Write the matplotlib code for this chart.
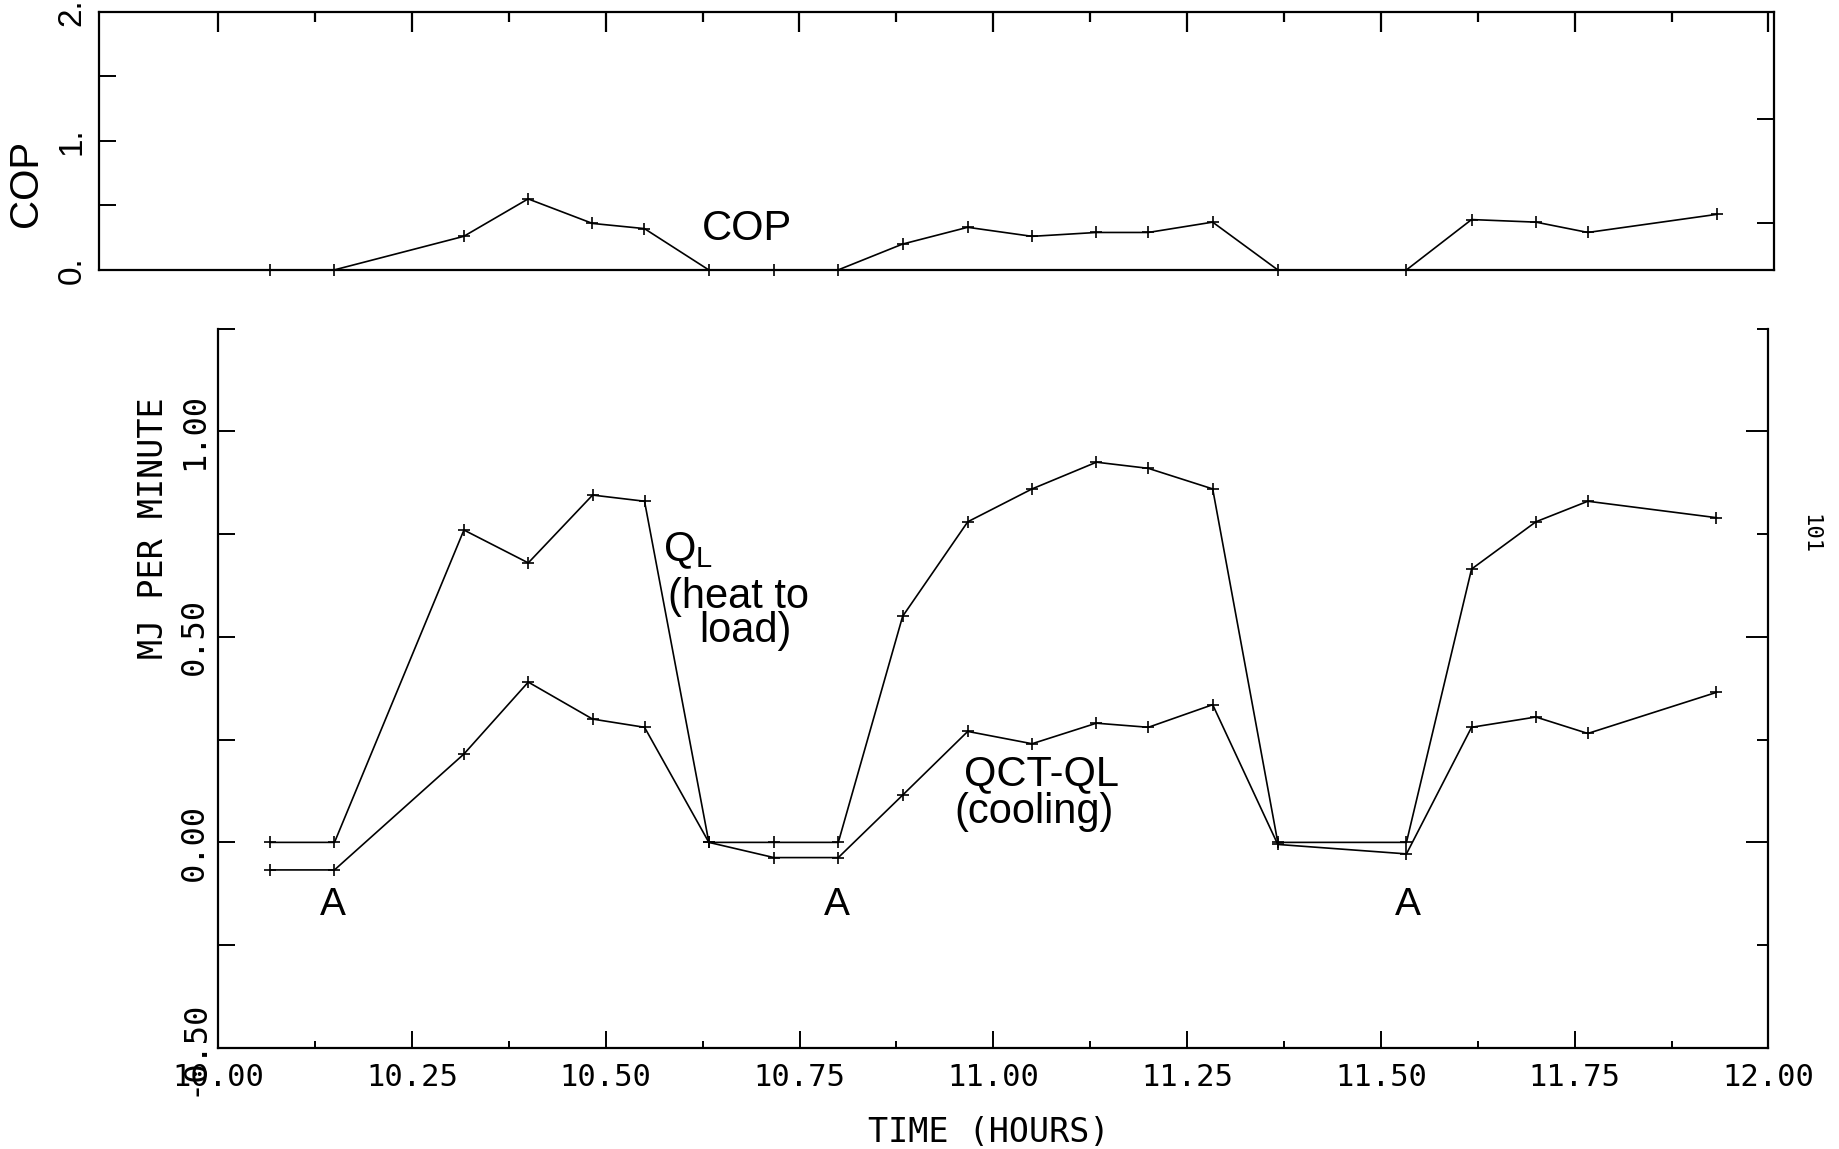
import numpy as np
import matplotlib
matplotlib.use("Agg")
import matplotlib.pyplot as plt
from matplotlib.ticker import FixedLocator, MultipleLocator, NullLocator

# time of each reading (hours)
hours = [10.067, 10.15, 10.317, 10.40, 10.483, 10.55, 10.633, 10.717, 10.80,
         10.883, 10.967, 11.05, 11.133, 11.20, 11.283, 11.367, 11.533,
         11.617, 11.70, 11.767, 11.933]
# coefficient of performance
cop = [0.0, 0.0, 0.26, 0.55, 0.36, 0.32, 0.0, 0.0, 0.0,
       0.20, 0.33, 0.26, 0.29, 0.29, 0.37, 0.0, 0.0,
       0.39, 0.37, 0.29, 0.43]
# Q_L, heat to load (MJ per minute)
q_load = [0.0, 0.0, 0.76, 0.68, 0.845, 0.83, 0.0, 0.0, 0.0,
          0.55, 0.78, 0.86, 0.925, 0.91, 0.86, 0.0, 0.0,
          0.665, 0.78, 0.83, 0.79]
# QCT-QL, cooling (MJ per minute)
q_cool = [-0.067, -0.067, 0.215, 0.39, 0.30, 0.28, 0.0, -0.037, -0.037,
          0.115, 0.27, 0.24, 0.29, 0.28, 0.335, -0.005, -0.028,
          0.28, 0.305, 0.265, 0.365]

x_ticks = [10.00, 10.25, 10.50, 10.75, 11.00, 11.25, 11.50, 11.75, 12.00]
x_ticklabels = ["10.00", "10.25", "10.50", "10.75", "11.00", "11.25",
                "11.50", "11.75", "12.00"]
y_ticks = [-0.50, 0.00, 0.50, 1.00]
y_ticklabels = ["-0.50", "0.00", "0.50", "1.00"]
cop_ticks = [0.0, 1.0, 2.0]
cop_ticklabels = ["0.", "1.", "2."]
a_marks = [10.148, 10.798, 11.535]

mono = "DejaVu Sans Mono"
sans = "Liberation Sans"

fig = plt.figure(figsize=(18.4, 11.49), dpi=100)

# ---- top panel: COP ----
ax1 = fig.add_axes([0.0536, 0.7651, 0.9107, 0.2247])
ax1.plot(hours, cop, "k-", marker="+", ms=8, mew=1.2, lw=1.2, clip_on=False)
ax1.set_xlim(9.846, 12.0075)
ax1.set_ylim(0, 2)
for s in ax1.spines.values():
    s.set_linewidth(1.6)
ax1.xaxis.set_major_locator(NullLocator())
ax1.tick_params(axis="x", bottom=False, top=False, labelbottom=False)

ax1.yaxis.set_major_locator(FixedLocator(cop_ticks))
ax1.yaxis.set_minor_locator(FixedLocator([0.5, 1.5]))
ax1.set_yticklabels(cop_ticklabels, rotation=90, va="center",
                    family=sans, fontsize=24)
ax1.tick_params(axis="y", which="both", direction="in", length=12,
                width=1.4, pad=8)
ax1.set_ylabel("COP", family=sans, fontsize=29, va="center")
ax1.yaxis.set_label_coords(-0.0434, 0.333)
ax1.text(10.682, 0.318, "COP", family=sans, fontsize=30,
         ha="center", va="center")

# right-hand ticks of the COP frame
r1 = ax1.twinx()
r1.set_ylim(0, 2)
r1.yaxis.set_major_locator(FixedLocator([0.36, 1.17]))
r1.yaxis.set_minor_locator(NullLocator())
r1.tick_params(axis="y", direction="in", length=12, width=1.4,
               labelright=False)
for s in r1.spines.values():
    s.set_visible(False)

# ---- bottom panel: heat flows ----
ax2 = fig.add_axes([0.1186, 0.0880, 0.8425, 0.626])
ax2.plot(hours, q_load, "k-", marker="+", ms=8, mew=1.2, lw=1.2)
ax2.plot(hours, q_cool, "k-", marker="+", ms=8, mew=1.2, lw=1.2)
ax2.set_xlim(10, 12)
ax2.set_ylim(-0.5, 1.25)
ax2.spines["top"].set_visible(False)
for s in ["left", "right", "bottom"]:
    ax2.spines[s].set_linewidth(1.6)

ax2.xaxis.set_major_locator(FixedLocator(x_ticks))
ax2.xaxis.set_minor_locator(MultipleLocator(0.125))
ax2.set_xticklabels(x_ticklabels, family=mono, fontsize=22)
ax2.tick_params(axis="x", which="major", direction="in", length=12,
                width=1.4, pad=11)
ax2.tick_params(axis="x", which="minor", direction="in", length=5,
                width=1.4)

ax2.yaxis.set_major_locator(FixedLocator(y_ticks))
ax2.yaxis.set_minor_locator(FixedLocator([-0.25, 0.25, 0.75, 1.25]))
ax2.set_yticklabels(y_ticklabels, rotation=90, va="center",
                    family=mono, fontsize=23)
ax2.tick_params(axis="y", which="both", direction="in", length=12,
                width=1.4, pad=6)

r2 = ax2.twinx()
r2.set_ylim(-0.5, 1.25)
r2.yaxis.set_major_locator(FixedLocator(y_ticks))
r2.yaxis.set_minor_locator(FixedLocator([-0.25, 0.25, 0.75, 1.25]))
r2.tick_params(axis="y", which="major", direction="in", length=16,
               width=1.4, labelright=False)
r2.tick_params(axis="y", which="minor", direction="in", length=8,
               width=1.4)
for s in r2.spines.values():
    s.set_visible(False)

ax2.set_ylabel("MJ PER MINUTE", family=mono, fontsize=24, va="center")
ax2.yaxis.set_label_coords(-0.0417, 0.723)
ax2.set_xlabel("TIME (HOURS)", family=mono, fontsize=24, va="center")
ax2.xaxis.set_label_coords(0.497, -0.117)

ax2.text(10.574, 0.684, r"Q$_\mathregular{L}$", family=sans, fontsize=30,
         ha="left", va="baseline")
ax2.text(10.671, 0.596, "(heat to", family=sans, fontsize=30,
         ha="center", va="center")
ax2.text(10.680, 0.514, "load)", family=sans, fontsize=30,
         ha="center", va="center")
ax2.text(11.062, 0.166, "QCT-QL", family=sans, fontsize=30,
         ha="center", va="center")
ax2.text(11.052, 0.073, "(cooling)", family=sans, fontsize=30,
         ha="center", va="center")
for xa in a_marks:
    ax2.text(xa, -0.152, "A", family=sans, fontsize=28,
             ha="center", va="center")

fig.text(0.984, 0.535, "101", family=mono, fontsize=16, rotation=270,
         ha="center", va="center")

# tick marks hanging from the top edge of the COP frame, drawn last
xt = r1.get_xaxis_transform()
r1.vlines(x_ticks, 0.92, 1.0, colors="k", lw=1.6, transform=xt,
          clip_on=False, zorder=10)
r1.vlines(np.arange(10.125, 12.0, 0.25), 0.96, 1.0, colors="k", lw=1.6,
          transform=xt, clip_on=False, zorder=10)

fig.savefig("out.png", dpi=100)
